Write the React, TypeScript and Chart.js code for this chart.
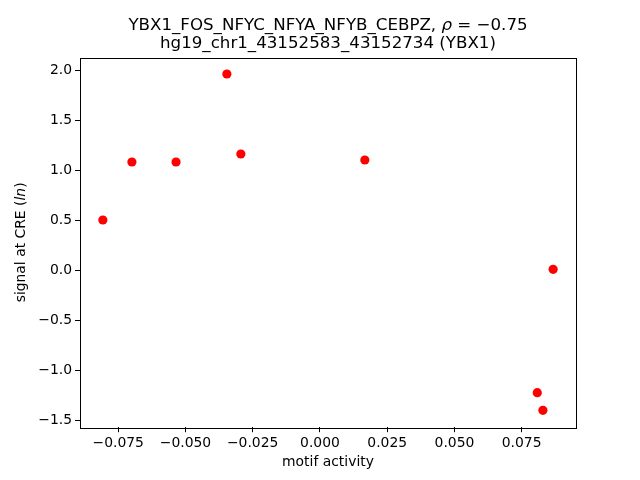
import React, { useEffect, useRef } from "react";
import { Chart, registerables } from "chart.js";

Chart.register(...registerables);

const motifActivity = [-0.0807, -0.0699, -0.0535, -0.0346, -0.0294, 0.0167, 0.0867, 0.0808, 0.0829];
const signal = [0.507, 1.087, 1.087, 1.967, 1.167, 1.107, 0.014, -1.22, -1.396];
const xTicks = [-0.075, -0.05, -0.025, 0, 0.025, 0.05, 0.075];
const yTicks = [-1.5, -1.0, -0.5, 0, 0.5, 1.0, 1.5, 2.0];
const xRange = [-0.0892, 0.0952];
const yRange = [-1.565, 2.131];
const titleLine1 = "YBX1_FOS_NFYC_NFYA_NFYB_CEBPZ, ";
const titleRho = "ρ";
const titleRhoValue = " = −0.75";
const titleLine2 = "hg19_chr1_43152583_43152734 (YBX1)";
const xLabel = "motif activity";
const yLabelParts = ["signal at CRE (", "ln", ")"];

const FONT = "'DejaVu Sans', sans-serif";

type Seg = { text: string; italic: boolean };

function drawSegments(ctx: CanvasRenderingContext2D, segs: Seg[], cx: number, cy: number, size: number) {
  const widths = segs.map((s) => {
    ctx.font = `${s.italic ? "italic " : ""}${size}px ${FONT}`;
    return ctx.measureText(s.text).width;
  });
  const total = widths.reduce((a, b) => a + b, 0);
  let x = cx - total / 2;
  ctx.textAlign = "left";
  segs.forEach((s, i) => {
    ctx.font = `${s.italic ? "italic " : ""}${size}px ${FONT}`;
    ctx.fillText(s.text, x, cy);
    x += widths[i];
  });
}

const decorPlugin = {
  id: "decor",
  beforeDraw(chart: any) {
    const ctx = chart.ctx;
    ctx.save();
    ctx.fillStyle = "#ffffff";
    ctx.fillRect(0, 0, chart.width, chart.height);
    ctx.restore();
  },
  afterDraw(chart: any) {
    const ctx: CanvasRenderingContext2D = chart.ctx;
    const a = chart.chartArea;
    ctx.save();
    ctx.strokeStyle = "#000000";
    ctx.lineWidth = 1;
    ctx.strokeRect(Math.round(a.left) + 0.5, Math.round(a.top) + 0.5, Math.round(a.right - a.left), Math.round(a.bottom - a.top));
    ctx.fillStyle = "#000000";
    const cx = (a.left + a.right) / 2;
    ctx.textBaseline = "alphabetic";
    drawSegments(ctx, [
      { text: titleLine1, italic: false },
      { text: titleRho, italic: true },
      { text: titleRhoValue, italic: false },
    ], cx, 29.5, 16.67);
    drawSegments(ctx, [{ text: titleLine2, italic: false }], cx, 48, 16.67);
    ctx.textBaseline = "middle";
    drawSegments(ctx, [{ text: xLabel, italic: false }], cx, 462, 13.9);
    ctx.translate(21, (a.top + a.bottom) / 2);
    ctx.rotate(-Math.PI / 2);
    drawSegments(ctx, [
      { text: yLabelParts[0], italic: false },
      { text: yLabelParts[1], italic: true },
      { text: yLabelParts[2], italic: false },
    ], 0, 0, 13.9);
    ctx.restore();
  },
};

const fmt = (v: number, d: number) => v.toFixed(d).replace("-", "\u2212");

export default function App() {
  const ref = useRef<HTMLCanvasElement | null>(null);
  useEffect(() => {
    if (!ref.current) return;
    const chart = new Chart(ref.current, {
      type: "scatter",
      data: {
        datasets: [
          {
            data: motifActivity.map((x, i) => ({ x, y: signal[i] })),
            backgroundColor: "#ff0000",
            borderColor: "#ff0000",
            borderWidth: 0,
            pointRadius: 4.6,
            pointHoverRadius: 4.6,
          },
        ],
      },
      options: {
        animation: false,
        responsive: false,
        devicePixelRatio: 1,
        layout: { padding: { top: 57.6, right: 64, bottom: 0, left: 0 } },
        plugins: { legend: { display: false }, title: { display: false }, tooltip: { enabled: false } },
        scales: {
          x: {
            type: "linear",
            min: xRange[0],
            max: xRange[1],
            afterBuildTicks: (s: any) => {
              s.ticks = xTicks.map((v) => ({ value: v }));
            },
            afterFit: (s: any) => {
              s.height = 52.8;
            },
            grid: { display: true, drawOnChartArea: false, drawTicks: true, tickLength: 5, color: "#000000", lineWidth: 1 },
            border: { display: false },
            ticks: {
              color: "#000000",
              font: { family: FONT, size: 13.9 },
              padding: 3,
              autoSkip: false,
              maxRotation: 0,
              callback: (v: any) => fmt(Number(v), 3),
            },
          },
          y: {
            type: "linear",
            min: yRange[0],
            max: yRange[1],
            afterBuildTicks: (s: any) => {
              s.ticks = yTicks.map((v) => ({ value: v }));
            },
            afterFit: (s: any) => {
              s.width = 80;
            },
            grid: { display: true, drawOnChartArea: false, drawTicks: true, tickLength: 5, color: "#000000", lineWidth: 1 },
            border: { display: false },
            ticks: {
              color: "#000000",
              font: { family: FONT, size: 13.9 },
              padding: 3,
              autoSkip: false,
              callback: (v: any) => fmt(Number(v), 1),
            },
          },
        },
      },
      plugins: [decorPlugin],
    } as any);
    return () => chart.destroy();
  }, []);
  return (
    <div style={{ position: "fixed", left: 0, top: 0, width: 640, height: 480, background: "#fff" }}>
      <canvas ref={ref} width={640} height={480} style={{ display: "block", width: 640, height: 480 }} />
    </div>
  );
}
